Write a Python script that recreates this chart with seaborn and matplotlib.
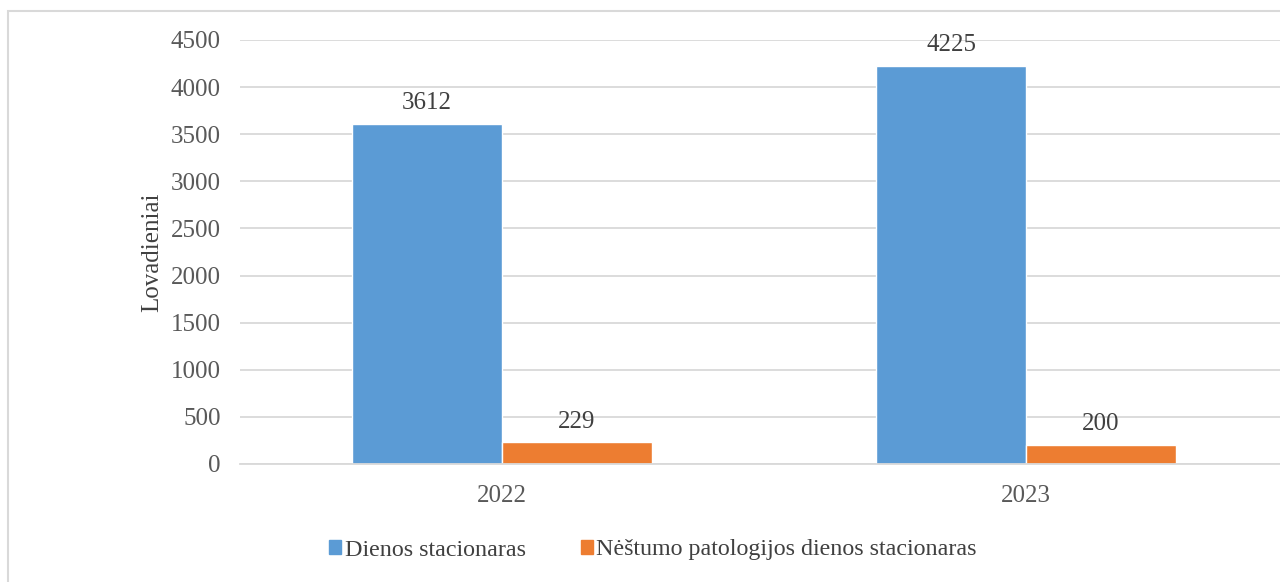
import matplotlib
matplotlib.use("Agg")
import matplotlib.pyplot as plt
import matplotlib.patches as mpatches
import seaborn as sns
import pandas as pd

years = ["2022", "2023"]
series_names = ["Dienos stacionaras", "Nėštumo patologijos dienos stacionaras"]
dienos = [3612, 4225]
nestumo = [229, 200]
yticks = [0, 500, 1000, 1500, 2000, 2500, 3000, 3500, 4000, 4500]
ylabel = "Lovadieniai"

df = pd.DataFrame({
    "year": years * 2,
    "series": [series_names[0]] * 2 + [series_names[1]] * 2,
    "value": dienos + nestumo,
})

sns.set_theme(style="white")
plt.rcParams["font.family"] = ["Liberation Serif", "DejaVu Serif"]

W, H = 1280, 582
FS = 18
fig = plt.figure(figsize=(W / 100, H / 100), dpi=100)
ax = fig.add_axes([240 / W, 1 - 464 / H, 1048 / W, 424 / H])

palette = {series_names[0]: "#5B9BD5", series_names[1]: "#ED7D31"}
sns.barplot(data=df, x="year", y="value", hue="series", palette=palette,
            width=0.572, gap=0, saturation=1, ax=ax, legend=False, errorbar=None)

ax.set_xlim(-0.5, 1.5)
ax.set_ylim(0, 4500)
ax.set_yticks(yticks)
ax.yaxis.grid(True, color="#d9d9d9", linewidth=1.3)
ax.set_axisbelow(True)
for s in ["top", "right", "left"]:
    ax.spines[s].set_visible(False)
ax.spines["bottom"].set_color("#d9d9d9")
ax.spines["bottom"].set_linewidth(1.3)
ax.tick_params(axis="both", length=0, labelsize=FS, colors="#595959")
ax.tick_params(axis="y", pad=14)
ax.tick_params(axis="x", pad=15)
ax.set_xlabel("")
ax.set_ylabel(ylabel, fontsize=FS, color="#404040", labelpad=5)

for cont in ax.containers:
    ax.bar_label(cont, fmt="%d", padding=7, fontsize=FS, color="#404040")

handles = [mpatches.Patch(color=palette[n], label=n) for n in series_names]
fig.legend(handles=handles, loc="center", bbox_to_anchor=(653 / W, 1 - 550 / H),
           ncol=2, frameon=False, fontsize=17.3, handlelength=0.5, handleheight=0.5,
           handletextpad=0.15, columnspacing=2.3, labelcolor="#404040")

border = mpatches.Rectangle((8 / W, 0 - 0.01), 1.1, 1 - 11 / H + 0.01,
                            transform=fig.transFigure, fill=False,
                            edgecolor="#d9d9d9", linewidth=1.5)
fig.patches.append(border)

fig.savefig("out.png", dpi=100)
